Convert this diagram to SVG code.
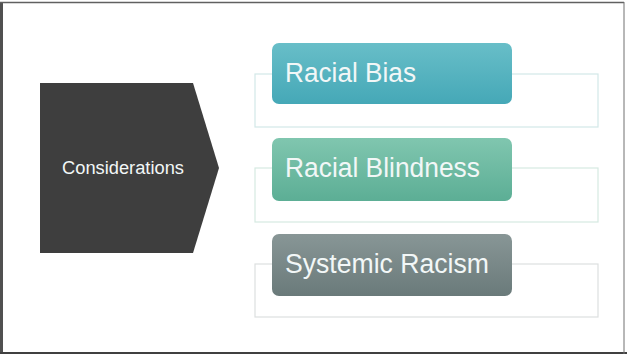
<svg xmlns="http://www.w3.org/2000/svg" width="627" height="355" viewBox="0 0 627 355">
  <style>
    .frame { fill: none; stroke: #505050; }
    .outline { fill: #ffffff; stroke-width: 1.2; }
    .label { font-family: "Liberation Sans", Arial, sans-serif; fill: #f2f7f7; }
    .big { font-size: 27px; }
  </style>
  <defs>
    <linearGradient id="gBias" x1="0" y1="0" x2="0" y2="1">
      <stop offset="0" stop-color="#68bec8"/>
      <stop offset="1" stop-color="#45a8b7"/>
    </linearGradient>
    <linearGradient id="gBlind" x1="0" y1="0" x2="0" y2="1">
      <stop offset="0" stop-color="#80c6af"/>
      <stop offset="1" stop-color="#5cae95"/>
    </linearGradient>
    <linearGradient id="gSys" x1="0" y1="0" x2="0" y2="1">
      <stop offset="0" stop-color="#889696"/>
      <stop offset="1" stop-color="#6a7a7a"/>
    </linearGradient>
  </defs>
  <rect width="627" height="355" fill="#ffffff"/>
  <!-- frame -->
  <line x1="1.5" y1="2" x2="1.5" y2="354" stroke="#505050" stroke-width="3"/>
  <line x1="0" y1="2.5" x2="624" y2="2.5" stroke="#606060" stroke-width="1.5"/>
  <line x1="0" y1="353" x2="627" y2="353" stroke="#404040" stroke-width="2"/>
  <line x1="624" y1="2" x2="624" y2="354" stroke="#707070" stroke-width="1"/>

  <g id="considerations">
    <polygon points="40,83 193,83 219,168 193,253 40,253" fill="#3e3e3e"/>
    <text class="label" x="123" y="174" font-size="18" text-anchor="middle" textLength="122" lengthAdjust="spacingAndGlyphs">Considerations</text>
  </g>

  <g id="racial-bias">
    <rect class="outline" x="255" y="74" width="343" height="53" stroke="#d3e8e8"/>
    <rect x="272" y="43" width="240" height="61" rx="7" fill="url(#gBias)"/>
    <text class="label big" x="285" y="82" textLength="131" lengthAdjust="spacingAndGlyphs">Racial Bias</text>
  </g>

  <g id="racial-blindness">
    <rect class="outline" x="255" y="168" width="343" height="54" stroke="#d6e9e2"/>
    <rect x="272" y="138" width="240" height="63" rx="7" fill="url(#gBlind)"/>
    <text class="label big" x="285" y="177" textLength="195" lengthAdjust="spacingAndGlyphs">Racial Blindness</text>
  </g>

  <g id="systemic-racism">
    <rect class="outline" x="255" y="264" width="343" height="53" stroke="#dddfdf"/>
    <rect x="272" y="234" width="240" height="62" rx="7" fill="url(#gSys)"/>
    <text class="label big" x="285" y="273" textLength="204" lengthAdjust="spacingAndGlyphs">Systemic Racism</text>
  </g>
</svg>
